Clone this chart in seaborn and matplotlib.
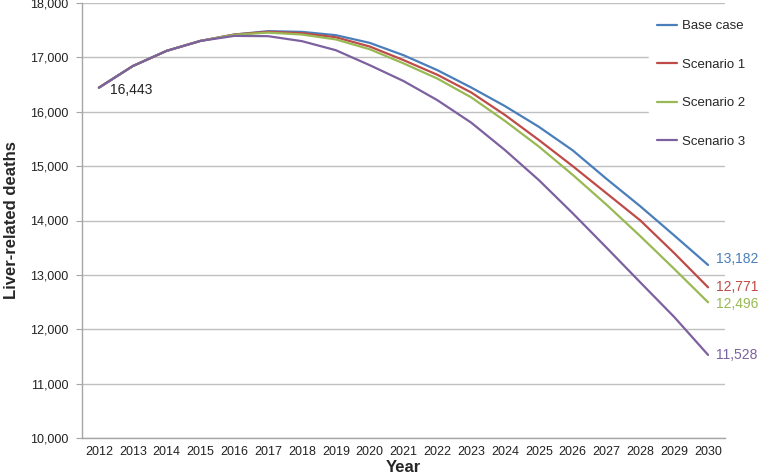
import pandas as pd
import seaborn as sns
import matplotlib.pyplot as plt
from matplotlib.ticker import FuncFormatter

years = list(range(2012, 2031))
base_case = [16443, 16840, 17120, 17303, 17420, 17482, 17469, 17408, 17267, 17040,
             16765, 16446, 16103, 15723, 15290, 14765, 14260, 13725, 13182]
scenario_1 = [16443, 16840, 17120, 17303, 17420, 17470, 17445, 17370, 17200, 16950,
              16680, 16355, 15940, 15480, 15000, 14500, 14000, 13400, 12771]
scenario_2 = [16443, 16840, 17120, 17303, 17415, 17455, 17420, 17330, 17150, 16890,
              16610, 16265, 15830, 15360, 14840, 14290, 13710, 13110, 12496]
scenario_3 = [16443, 16840, 17120, 17303, 17395, 17390, 17298, 17132, 16857, 16565,
              16213, 15800, 15294, 14743, 14133, 13500, 12860, 12225, 11528]
series_names = ["Base case", "Scenario 1", "Scenario 2", "Scenario 3"]
colors = ["#4a7ebb", "#be4b48", "#98b954", "#7d60a0"]

df = pd.DataFrame({
    "Year": years * 4,
    "Deaths": base_case + scenario_1 + scenario_2 + scenario_3,
    "Scenario": [n for n in series_names for _ in years],
})

sns.set_style("white")
plt.rcParams["font.family"] = ["Liberation Sans", "DejaVu Sans"]

fig = plt.figure(figsize=(7.59, 4.76), dpi=100)
ax = fig.add_axes([82 / 759, 1 - 438 / 476, (725 - 82) / 759, (438 - 3) / 476])

sns.lineplot(data=df, x="Year", y="Deaths", hue="Scenario",
             palette=dict(zip(series_names, colors)), linewidth=1.6, ax=ax)

ax.set_xlim(2011.5, 2030.5)
ax.set_ylim(10000, 18000)
ax.set_xticks(years)
ax.set_xticklabels([str(y) for y in years])
ax.set_xticks([y - 0.5 for y in years] + [2030.5], minor=True)
ax.tick_params(axis="x", which="major", length=0, labelsize=9, colors="#222222", pad=5.5)
ax.tick_params(axis="x", which="minor", length=3.5, color="#a6a6a6", direction="out")
ax.set_yticks(range(10000, 18001, 1000))
ax.yaxis.set_major_formatter(FuncFormatter(lambda v, p: f"{int(v):,}"))
ax.tick_params(axis="y", length=4, color="#a6a6a6", labelsize=9, colors="#222222",
               left=True, pad=6)
ax.grid(axis="y", color="#c0c0c0", linewidth=1)
ax.set_axisbelow(True)

for side in ["top", "right"]:
    ax.spines[side].set_visible(False)
for side in ["left", "bottom"]:
    ax.spines[side].set_color("#a6a6a6")
    ax.spines[side].set_linewidth(1)

ax.set_xlabel("Year", fontsize=12, fontweight="bold", labelpad=2)
ax.set_ylabel("Liver-related deaths", fontsize=12, fontweight="bold")
ax.yaxis.set_label_coords(-(82 - 19) / 643, 0.5)

# value labels
ax.annotate(f"{base_case[0]:,}", (years[0], base_case[0]), xytext=(8, -2),
            textcoords="offset points", fontsize=10, va="center", ha="left", color="#222222")
end_offsets = [4, 0, -1, 0]
for vals, col, off in zip([base_case, scenario_1, scenario_2, scenario_3], colors, end_offsets):
    ax.annotate(f"{vals[-1]:,}", (years[-1], vals[-1]), xytext=(6, off),
                textcoords="offset points", fontsize=10, va="center", ha="left",
                color=col, annotation_clip=False)

leg = ax.legend(loc="upper left", bbox_to_anchor=(649 / 759, 1 - 12 / 476),
                bbox_transform=fig.transFigure, frameon=True, fontsize=9.5,
                handlelength=1.5, handletextpad=0.38, labelspacing=2.0,
                borderaxespad=0, borderpad=0.6)
leg.get_frame().set_facecolor("white")
leg.get_frame().set_edgecolor("white")
leg.get_frame().set_alpha(1)
for line in leg.get_lines():
    line.set_linewidth(1.6)

fig.savefig("out.png", dpi=100)
